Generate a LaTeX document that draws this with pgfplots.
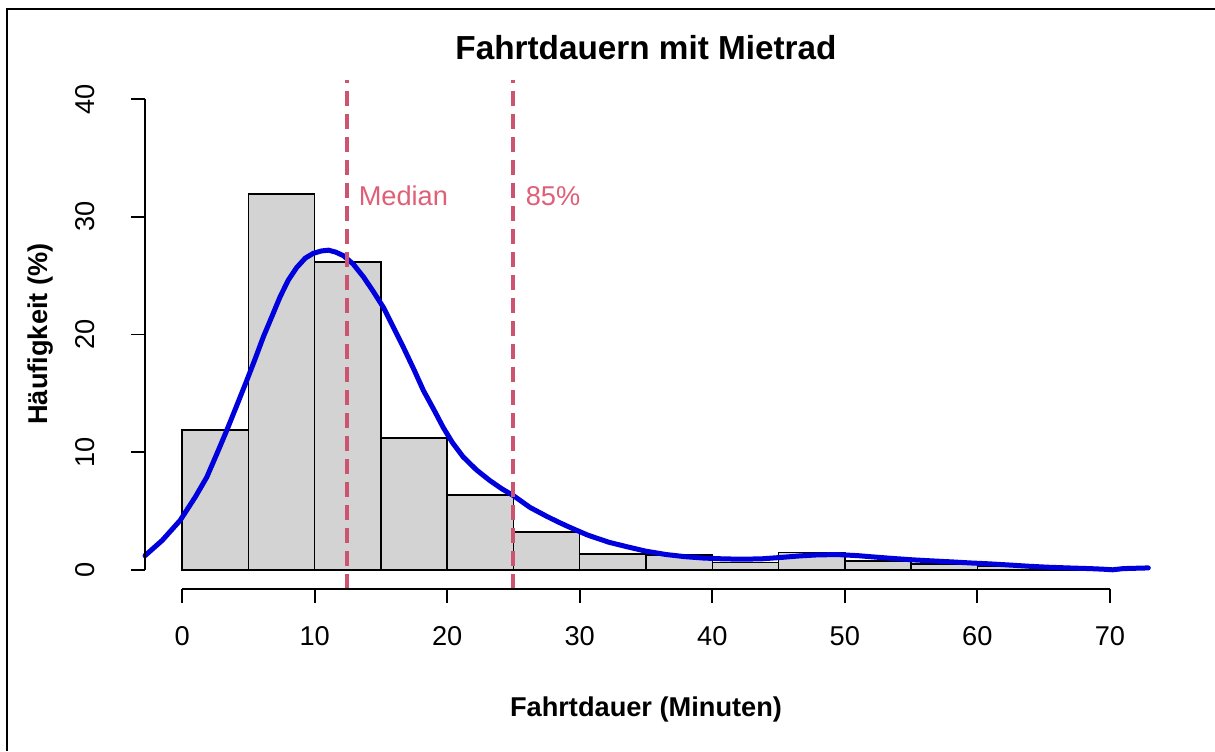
\documentclass[border=0pt]{standalone}
\usepackage{pgfplots}
\pgfplotsset{compat=1.18}
\usepackage{fontspec}
\setmainfont{Liberation Sans}
\definecolor{barfill}{HTML}{D3D3D3}
\definecolor{curve}{RGB}{0,0,220}
\definecolor{vline}{RGB}{204,84,112}
\definecolor{vtext}{RGB}{222,95,118}
\begin{document}
\begin{tikzpicture}
\path[use as bounding box] (0pt,0pt) rectangle (607.5pt,-375.5pt);
\draw[line width=1.25pt] (3.6pt,-375.5pt) -- (3.6pt,-4.6pt) -- (607.5pt,-4.6pt);
\node[font=\fontsize{16.65}{20}\selectfont\bfseries, anchor=base, inner sep=0pt] at (323pt,-29.5pt) {Fahrtdauern mit Mietrad};
\node[font=\fontsize{13.6}{16}\selectfont\bfseries, anchor=base, inner sep=0pt] at (323pt,-358pt) {Fahrtdauer (Minuten)};
\node[font=\fontsize{13.6}{16}\selectfont\bfseries, anchor=base, rotate=90, inner sep=0pt] at (23.5pt,-167pt) {Häufigkeit (\%)};
\begin{axis}[
  at={(72.5pt,-294.3pt)}, anchor=south west,
  scale only axis, width=501pt, height=254.1pt,
  xmin=-2.8, xmax=72.8, ymin=-1.6, ymax=41.6,
  axis x line*=bottom, axis y line*=left,
  x axis line style={draw=none}, y axis line style={draw=none},
  xtick={0,10,...,70}, ytick={0,10,...,40},
  minor tick num=0,
  tick align=outside, major tick length=7pt,
  tick style={black, line width=0.9pt},
  clip=false,
  /pgf/number format/assume math mode=true,
  xticklabel style={font=\fontsize{13.6}{16}\selectfont, anchor=base, inner sep=0pt, yshift=-21.2pt},
  yticklabel style={font=\fontsize{13.6}{16}\selectfont, inner sep=0pt, xshift=-18pt, rotate=90, anchor=base},
]
\addplot[ybar interval, fill=barfill, draw=black, line width=0.75pt] coordinates {
(0,11.9) (5,31.95) (10,26.15) (15,11.2) (20,6.35) (25,3.23) (30,1.35) (35,1.25)
(40,0.6) (45,1.48) (50,0.75) (55,0.5) (60,0.28) (65,0.1) (70,0.1)};
\addplot[curve, line width=2.5pt, line join=round, line cap=round] coordinates {
(-2.8,1.2) (-1.5,2.5) (-0.15,4.2) (1.0,6.2) (1.86,7.87) (2.6,9.8) (3.37,11.85)
(4.1,13.9) (4.88,16.1) (5.5,17.9) (6.13,19.8) (6.8,21.6) (7.39,23.2) (8.0,24.6)
(8.65,25.7) (9.3,26.5) (9.9,26.9) (10.5,27.1) (11.04,27.17) (11.6,27.0) (12.17,26.7)
(12.9,26.0) (13.68,24.9) (14.4,23.7) (15.19,22.3) (15.9,20.7) (16.7,18.9) (17.5,17.0)
(18.2,15.25) (19.0,13.6) (19.7,12.1) (20.4,10.8) (21.2,9.6) (22.2,8.5) (23.2,7.6)
(24.1,6.9) (25.0,6.3) (26.25,5.3) (27.5,4.55) (28.4,4.05) (29.27,3.6) (30.6,2.95)
(32.2,2.34) (33.6,1.95) (35.0,1.58) (36.5,1.3) (37.9,1.12) (39.3,1.0) (40.8,0.93)
(42.2,0.9) (43.7,0.93) (45.2,1.05) (46.6,1.18) (48.0,1.27) (49.5,1.29) (51.0,1.2)
(52.4,1.07) (53.8,0.95) (55.2,0.84) (56.7,0.75) (58.1,0.67) (59.5,0.58) (61.0,0.5)
(62.5,0.4) (63.9,0.3) (65.3,0.22) (66.8,0.16) (68.5,0.1) (69.5,0.05) (70.2,0.0)
(71.0,0.1) (72.9,0.16)};
\addplot[vline, line width=2pt, dash pattern=on 7.5pt off 4pt] coordinates {(12.45,-1.6) (12.45,41.6)};
\addplot[vline, line width=2pt, dash pattern=on 7.5pt off 4pt] coordinates {(24.95,-1.6) (24.95,41.6)};
\node[vtext, font=\fontsize{13.6}{16}\selectfont, anchor=base west, inner sep=0pt] at (axis cs:13.3,31.0) {Median};
\node[vtext, font=\fontsize{13.6}{16}\selectfont, anchor=base west, inner sep=0pt] at (axis cs:25.9,31.0) {85\%};
\draw[black, line width=0.9pt] (axis cs:0,-1.6) -- (axis cs:70,-1.6);
\draw[black, line width=0.9pt] (axis cs:-2.8,0) -- (axis cs:-2.8,40);
\end{axis}
\end{tikzpicture}
\end{document}
